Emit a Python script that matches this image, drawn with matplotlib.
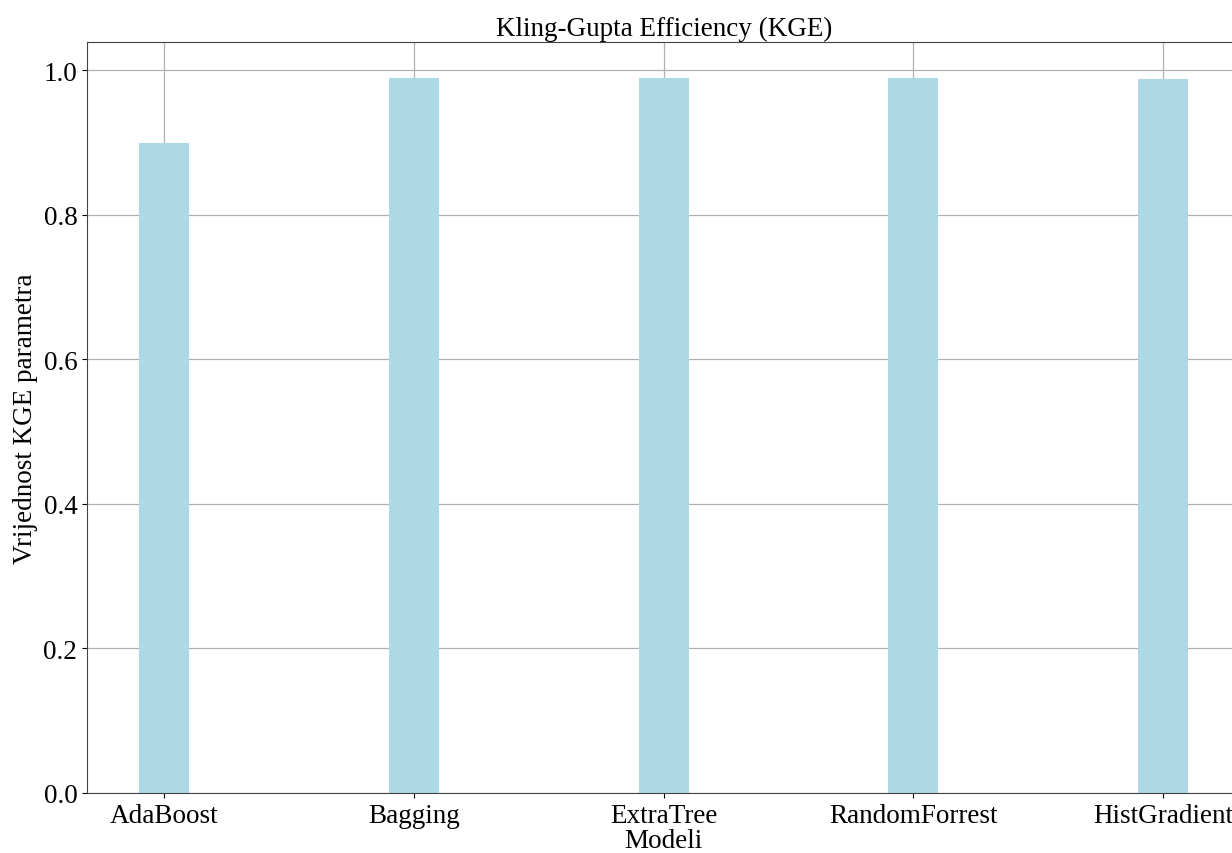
import matplotlib
matplotlib.use("Agg")
import matplotlib.pyplot as plt

models = ["AdaBoost", "Bagging", "ExtraTree", "RandomForrest", "HistGradient"]
kge = [0.900, 0.990, 0.990, 0.990, 0.988]

plt.rcParams["font.family"] = ["Liberation Serif", "DejaVu Serif"]
plt.rcParams["font.size"] = 19.5

fig = plt.figure(figsize=(12.32, 8.54), dpi=100)
ax = fig.add_axes([0.0706, 0.0703, 0.9363, 0.8794])

ax.bar(models, kge, width=0.2, color="lightblue")
ax.set_axisbelow(True)
ax.grid(True, color="#b0b0b0", linewidth=0.9)

ax.set_title("Kling-Gupta Efficiency (KGE)", fontsize=19.5, pad=5)
ax.set_xlabel("Modeli", labelpad=0)
ax.set_ylabel("Vrijednost KGE parametra")

for s in ax.spines.values():
    s.set_color("#444444")

fig.savefig("out.png", dpi=100)
